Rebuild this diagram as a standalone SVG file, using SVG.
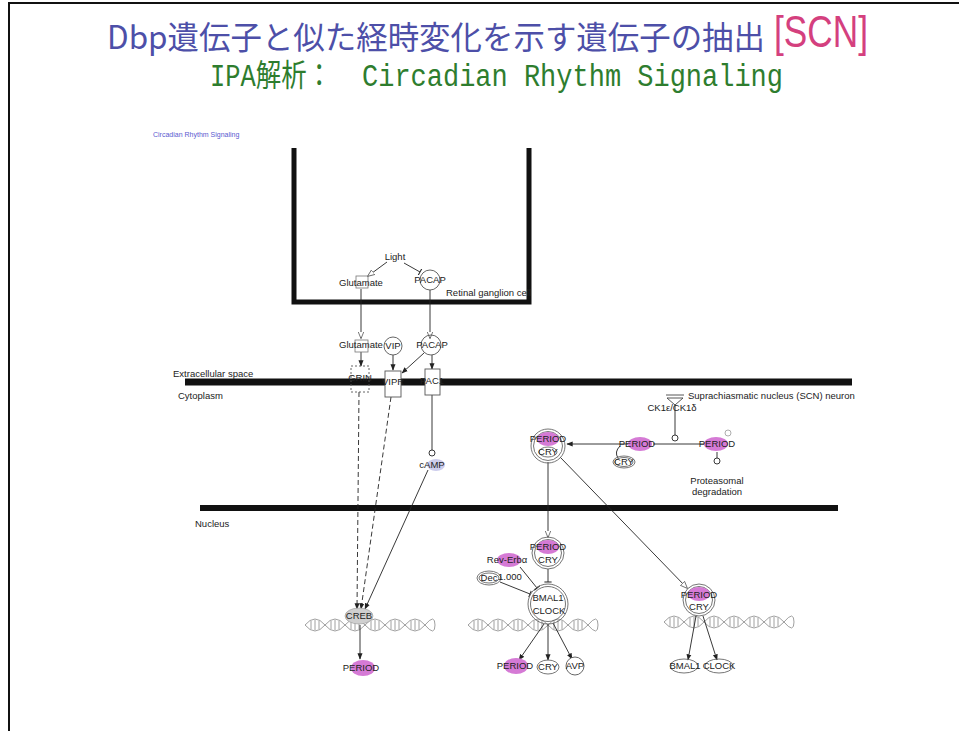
<svg xmlns="http://www.w3.org/2000/svg" width="959" height="731" viewBox="0 0 959 731">
  <style>
    .lbl { font-family: "Liberation Sans", Arial, sans-serif; font-size: 9.5px; fill: #222; text-anchor: middle; }
    .lblL { font-family: "Liberation Sans", Arial, sans-serif; font-size: 9.5px; fill: #222; }
    .edge { stroke: #222; stroke-width: 0.9; fill: none; }
    .dash { stroke: #222; stroke-width: 0.9; fill: none; stroke-dasharray: 5 3; }
    .wall { stroke: #111; fill: none; }
    .pink { fill: #d57ad5; }
    .ring { fill: none; stroke: #666; stroke-width: 0.9; }
    .helix { stroke: #888; stroke-width: 0.8; fill: none; }
  </style>
  <defs>
    <marker id="arrow" viewBox="0 0 10 10" refX="9" refY="5" markerWidth="7" markerHeight="7" orient="auto">
      <path d="M0,1 L10,5 L0,9 z" fill="#222"/>
    </marker>
    <marker id="arrowOpen" viewBox="0 0 10 10" refX="9" refY="5" markerWidth="8" markerHeight="8" orient="auto">
      <path d="M0,1 L10,5 L0,9 z" fill="#fff" stroke="#444" stroke-width="1"/>
    </marker>
    <marker id="bar" viewBox="0 0 10 10" refX="5" refY="5" markerWidth="8" markerHeight="8" orient="auto">
      <path d="M5,0 L5,10" stroke="#222" stroke-width="1.4"/>
    </marker>
    <g id="dna">
      <path class="helix" d="M0,7 Q10,-5 20,7 T40,7 T60,7 T80,7 T100,7 T120,7 T130,7"/>
      <path class="helix" d="M0,7 Q10,19 20,7 T40,7 T60,7 T80,7 T100,7 T120,7 T130,7"/>
      <path class="helix" d="M6,3 v8 M10,2 v10 M14,3 v8 M26,3 v8 M30,2 v10 M34,3 v8 M46,3 v8 M50,2 v10 M54,3 v8 M66,3 v8 M70,2 v10 M74,3 v8 M86,3 v8 M90,2 v10 M94,3 v8 M106,3 v8 M110,2 v10 M114,3 v8"/>
    </g>
  </defs>

  <rect width="959" height="731" fill="#fff"/>
  <!-- slide frame -->
  <path d="M9,731 V3 H959" stroke="#111" stroke-width="2" fill="none"/>

  <!-- titles -->
  <text x="107" y="49" font-family="'Noto Sans CJK JP', sans-serif" font-size="32" fill="#4d4fa8" textLength="658" lengthAdjust="spacingAndGlyphs">Dbp遺伝子と似た経時変化を示す遺伝子の抽出</text>
  <text x="774" y="47" font-family="'Liberation Sans', sans-serif" font-size="44" fill="#d4407e" textLength="94" lengthAdjust="spacingAndGlyphs">[SCN]</text>
  <text x="210" y="86" font-family="'Liberation Mono', 'Noto Sans CJK JP', monospace" font-size="31" fill="#2e7d2e" textLength="122" lengthAdjust="spacingAndGlyphs">IPA解析：</text>
  <text x="362" y="86" font-family="'Liberation Mono', monospace" font-size="31" fill="#2e7d2e" textLength="421" lengthAdjust="spacingAndGlyphs">Circadian Rhythm Signaling</text>

  <text x="153" y="137" font-family="'Liberation Sans', sans-serif" font-size="7" fill="#5a5ad0">Circadian Rhythm Signaling</text>

  <!-- compartments -->
  <g id="compartments">
    <path class="wall" d="M294,148 V302 H529 V148" stroke-width="5"/>
    <line x1="185" y1="382" x2="852" y2="382" stroke="#111" stroke-width="7"/>
    <line x1="200" y1="508" x2="838" y2="508" stroke="#111" stroke-width="6"/>
    <text class="lblL" x="446" y="296">Retinal ganglion cell</text>
    <text class="lblL" x="173" y="377">Extracellular space</text>
    <text class="lblL" x="178" y="399">Cytoplasm</text>
    <text class="lblL" x="195" y="527">Nucleus</text>
    <text class="lblL" x="688" y="399">Suprachiasmatic nucleus (SCN) neuron</text>
    <use href="#dna" x="305" y="618"/>
    <use href="#dna" x="468" y="618"/>
    <use href="#dna" x="664" y="615"/>
  </g>

  <!-- connectors -->
  <g id="connectors">
    <line class="edge" x1="387" y1="262" x2="368" y2="276" marker-end="url(#arrowOpen)"/>
    <line class="edge" x1="404" y1="263" x2="420" y2="272" marker-end="url(#bar)"/>
    <line class="edge" x1="361" y1="289" x2="361" y2="338" marker-end="url(#arrowOpen)"/>
    <line class="edge" x1="430" y1="290" x2="430" y2="338" marker-end="url(#arrowOpen)"/>
    <line class="edge" x1="361" y1="352" x2="361" y2="366" marker-end="url(#arrow)"/>
    <line class="edge" x1="393" y1="355" x2="393" y2="370" marker-end="url(#arrow)"/>
    <line class="edge" x1="424" y1="353" x2="402" y2="373" marker-end="url(#arrow)"/>
    <line class="edge" x1="432" y1="355" x2="432" y2="369" marker-end="url(#arrow)"/>
    <line class="edge" x1="432" y1="395" x2="432" y2="450"/>
    <circle cx="432" cy="453" r="3" fill="#fff" stroke="#222" stroke-width="0.9"/>
    <line class="dash" x1="359" y1="392" x2="357" y2="609" marker-end="url(#arrow)"/>
    <line class="dash" x1="391" y1="397" x2="361" y2="609" marker-end="url(#arrow)"/>
    <line class="edge" x1="428" y1="470" x2="365" y2="609" marker-end="url(#arrow)"/>
    <line class="edge" x1="360" y1="625" x2="360" y2="659" marker-end="url(#arrow)"/>
    <!-- cytoplasmic PERIOD cycle -->
    <line class="edge" x1="628" y1="444" x2="567" y2="444" marker-end="url(#arrow)"/>
    <path class="edge" d="M618,458 Q614,452 620,446"/>
    <line class="edge" x1="653" y1="444" x2="705" y2="444"/>
    <line class="edge" x1="675" y1="403" x2="675" y2="435"/>
    <circle cx="675" cy="438" r="3" fill="#fff" stroke="#222" stroke-width="0.9"/>
    <line class="edge" x1="717" y1="452" x2="717" y2="458"/>
    <circle cx="717" cy="461" r="3" fill="#fff" stroke="#222" stroke-width="0.9"/>
    <line class="edge" x1="548" y1="462" x2="548" y2="537" marker-end="url(#arrowOpen)"/>
    <line class="edge" x1="560" y1="457" x2="687" y2="588" marker-end="url(#arrowOpen)"/>
    <!-- nuclear regulation -->
    <line class="edge" x1="548" y1="569" x2="548" y2="582" marker-end="url(#bar)"/>
    <line class="edge" x1="520" y1="567" x2="537" y2="588" marker-end="url(#bar)"/>
    <line class="edge" x1="500" y1="582" x2="530" y2="594" marker-end="url(#bar)"/>
    <line class="edge" x1="544" y1="624" x2="519" y2="660" marker-end="url(#arrow)"/>
    <line class="edge" x1="548" y1="624" x2="548" y2="660" marker-end="url(#arrow)"/>
    <line class="edge" x1="553" y1="623" x2="572" y2="659" marker-end="url(#arrow)"/>
    <line class="edge" x1="696" y1="616" x2="688" y2="660" marker-end="url(#arrow)"/>
    <line class="edge" x1="703" y1="616" x2="717" y2="660" marker-end="url(#arrow)"/>
  </g>

  <!-- nodes -->
  <g id="light"><text class="lbl" x="395" y="260">Light</text></g>
  <g id="glutamate1">
    <rect x="356" y="276" width="12" height="12" fill="none" stroke="#777" stroke-width="0.8"/>
    <text class="lbl" x="361" y="286">Glutamate</text>
  </g>
  <g id="pacap1">
    <circle cx="430" cy="280" r="10" fill="none" stroke="#555" stroke-width="0.9"/>
    <text class="lbl" x="430" y="283">PACAP</text>
  </g>
  <g id="glutamate2">
    <rect x="355" y="340" width="13" height="12" fill="none" stroke="#777" stroke-width="0.8"/>
    <text class="lbl" x="361" y="348">Glutamate</text>
  </g>
  <g id="vip">
    <circle cx="393" cy="346" r="9" fill="#fff" stroke="#555" stroke-width="0.9"/>
    <text class="lbl" x="393" y="349">VIP</text>
  </g>
  <g id="pacap2">
    <circle cx="431" cy="345" r="10" fill="none" stroke="#555" stroke-width="0.9"/>
    <text class="lbl" x="432" y="348">PACAP</text>
  </g>
  <g id="grin">
    <rect x="351" y="366" width="18" height="26" fill="none" stroke="#555" stroke-width="0.9" stroke-dasharray="2 2"/>
    <text class="lbl" x="360" y="381">GRIN</text>
  </g>
  <g id="vipr">
    <rect x="385" y="371" width="16" height="26" fill="#fff" stroke="#555" stroke-width="0.9"/>
    <text class="lbl" x="393" y="385">VIPR</text>
  </g>
  <g id="pac1">
    <rect x="425" y="369" width="15" height="26" fill="#fff" stroke="#555" stroke-width="0.9"/>
    <text class="lbl" x="432" y="384">PAC1</text>
  </g>
  <g id="camp">
    <ellipse cx="436" cy="465" rx="9" ry="6" fill="#ccccec"/>
    <text class="lbl" x="432" y="468">cAMP</text>
  </g>
  <g id="creb">
    <ellipse cx="359" cy="616" rx="14" ry="8" fill="#cfcfcf" stroke="#999" stroke-width="0.6"/>
    <text class="lbl" x="359" y="619">CREB</text>
  </g>
  <g id="period-creb">
    <ellipse cx="363" cy="668" rx="12" ry="8" class="pink"/>
    <text class="lbl" x="361" y="671">PERIOD</text>
  </g>

  <g id="ck1">
    <path d="M666,395 H684 M667,398 H683 L675,405 Z" fill="#fff" stroke="#444" stroke-width="0.9"/>
    <text class="lbl" x="672" y="411">CK1ε/CK1δ</text>
  </g>
  <g id="period-cry-cyto">
    <circle cx="548" cy="446" r="17" class="ring"/>
    <circle cx="548" cy="446" r="14.5" class="ring"/>
    <ellipse cx="548" cy="439" rx="11" ry="7" class="pink"/>
    <text class="lbl" x="548" y="442">PERIOD</text>
    <ellipse cx="548" cy="452" rx="9" ry="5" class="ring"/>
    <text class="lbl" x="548" y="455">CRY</text>
  </g>
  <g id="period-b">
    <ellipse cx="640" cy="444" rx="12" ry="7" class="pink"/>
    <text class="lbl" x="637" y="447">PERIOD</text>
  </g>
  <g id="cry-b">
    <ellipse cx="624" cy="462" rx="11" ry="6" class="ring"/>
    <ellipse cx="624" cy="462" rx="9" ry="4.5" class="ring"/>
    <text class="lbl" x="624" y="465">CRY</text>
  </g>
  <g id="period-c">
    <ellipse cx="716" cy="444" rx="12" ry="7" class="pink"/>
    <circle cx="728" cy="433" r="3" fill="#fff" stroke="#999" stroke-width="0.8"/>
    <text class="lbl" x="717" y="447">PERIOD</text>
  </g>
  <g id="proteasomal">
    <text class="lbl" x="717" y="484">Proteasomal</text>
    <text class="lbl" x="717" y="495">degradation</text>
  </g>

  <g id="period-cry-nuc">
    <circle cx="548" cy="553" r="16" class="ring"/>
    <circle cx="548" cy="553" r="13.5" class="ring"/>
    <ellipse cx="548" cy="547" rx="11" ry="7" class="pink"/>
    <text class="lbl" x="548" y="550">PERIOD</text>
    <text class="lbl" x="548" y="563">CRY</text>
  </g>
  <g id="rev-erba">
    <ellipse cx="509" cy="560" rx="12" ry="7" class="pink"/>
    <text class="lbl" x="507" y="563">Rev-Erbα</text>
  </g>
  <g id="dec">
    <ellipse cx="489" cy="578" rx="12" ry="7" class="ring"/>
    <ellipse cx="489" cy="578" rx="10" ry="5" class="ring"/>
    <text class="lbl" x="489" y="581">Dec</text>
    <text class="lblL" x="498" y="580">1.000</text>
  </g>
  <g id="bmal1-clock">
    <circle cx="548" cy="604" r="20" class="ring"/>
    <circle cx="548" cy="604" r="17.5" class="ring"/>
    <text class="lbl" x="548" y="601">BMAL1</text>
    <text class="lbl" x="549" y="614">CLOCK</text>
  </g>
  <g id="period-e">
    <ellipse cx="516" cy="666" rx="12" ry="8" class="pink"/>
    <text class="lbl" x="515" y="669">PERIOD</text>
  </g>
  <g id="cry-e">
    <ellipse cx="548" cy="667" rx="11" ry="7" class="ring"/>
    <text class="lbl" x="548" y="670">CRY</text>
  </g>
  <g id="avp">
    <circle cx="575" cy="666" r="9" fill="#fff" stroke="#555" stroke-width="0.9"/>
    <text class="lbl" x="575" y="669">AVP</text>
  </g>

  <g id="period-cry-right">
    <circle cx="699" cy="600" r="16" class="ring"/>
    <circle cx="699" cy="600" r="13.5" class="ring"/>
    <ellipse cx="699" cy="594" rx="11" ry="7" class="pink"/>
    <text class="lbl" x="699" y="598">PERIOD</text>
    <text class="lbl" x="699" y="610">CRY</text>
  </g>
  <g id="bmal1">
    <ellipse cx="684" cy="666" rx="14" ry="7" class="ring"/>
    <text class="lbl" x="685" y="669">BMAL1</text>
  </g>
  <g id="clock">
    <ellipse cx="719" cy="666" rx="14" ry="7" class="ring"/>
    <text class="lbl" x="719" y="669">CLOCK</text>
  </g>
</svg>
